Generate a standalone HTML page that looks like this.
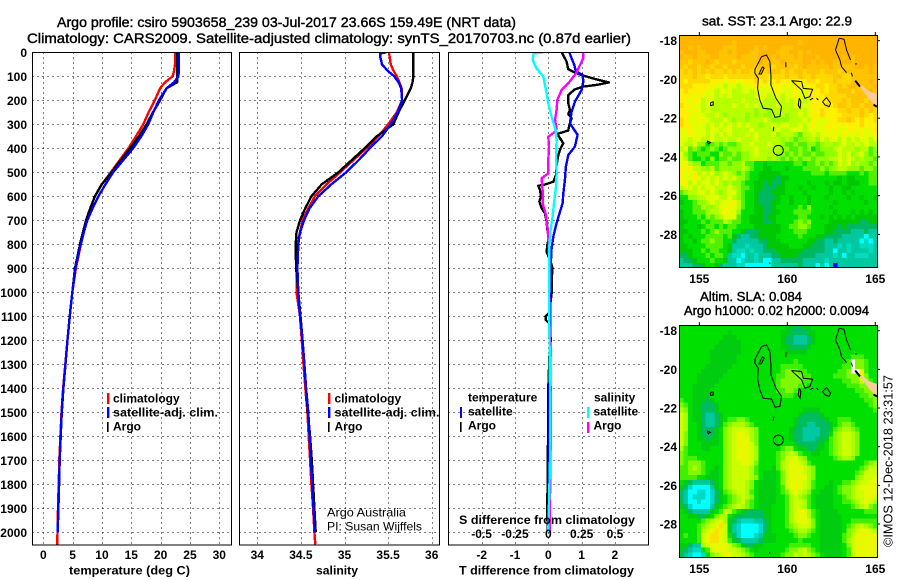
<!DOCTYPE html>
<html lang="en">
<head>
<meta charset="utf-8">
<title>Argo profile csiro 5903658_239</title>
<style>
html,body{margin:0;padding:0;background:#fff;}
svg{display:block;}
text{font-family:"Liberation Sans",sans-serif;fill:#000;}
.b{font-weight:bold;font-size:12px;}
.t{font-weight:normal;font-size:14px;stroke:#000;stroke-width:0.4px;}
.m{font-weight:normal;font-size:12.5px;stroke:#000;stroke-width:0.4px;}
.r{font-weight:normal;font-size:12px;}
</style>
</head>
<body>
<svg id="chart" width="900" height="580" viewBox="0 0 900 580" xmlns="http://www.w3.org/2000/svg">
<defs>
<clipPath id="clip-temp"><rect x="32" y="52" width="200" height="493"/></clipPath>
<clipPath id="clip-sal"><rect x="239" y="52" width="200.5" height="493"/></clipPath>
<clipPath id="clip-diff"><rect x="448" y="52" width="200.5" height="493"/></clipPath>
<clipPath id="clip-map1"><rect x="679" y="35" width="198" height="232"/></clipPath>
<clipPath id="clip-map2"><rect x="679" y="325.5" width="198" height="231.5"/></clipPath>
</defs>
<g id="layer-grid"></g>
<g id="layer-marks"></g>
<g id="layer-maps"></g>
<g id="layer-axes"></g>

<text class="t" x="57" y="27" textLength="459" lengthAdjust="spacingAndGlyphs">Argo profile: csiro 5903658_239 03-Jul-2017 23.66S 159.49E (NRT data)</text>
<text class="t" x="27" y="43" textLength="604" lengthAdjust="spacingAndGlyphs">Climatology: CARS2009. Satellite-adjusted climatology: synTS_20170703.nc (0.87d earlier)</text>

<text class="b" x="69" y="574.5" textLength="121" lengthAdjust="spacingAndGlyphs">temperature (deg C)</text>
<text class="b" x="316" y="574.5" textLength="42" lengthAdjust="spacingAndGlyphs">salinity</text>
<text class="b" x="459" y="574.5" textLength="175" lengthAdjust="spacingAndGlyphs">T difference from climatology</text>
<text class="b" x="459" y="524" textLength="176" lengthAdjust="spacingAndGlyphs">S difference from climatology</text>

<g>
<rect x="107" y="393" width="2.4" height="11" fill="#ff0000"/>
<rect x="107" y="407" width="2.4" height="11" fill="#0000ff"/>
<rect x="107" y="422" width="1.6" height="10" fill="#000"/>
<text class="b" x="113" y="402.5">climatology</text>
<text class="b" x="113" y="416.5" textLength="105" lengthAdjust="spacingAndGlyphs">satellite-adj. clim.</text>
<text class="b" x="113" y="430.5">Argo</text>
</g>
<g clip-path="url(#clip-sal)">
<rect x="328" y="393" width="2.4" height="11" fill="#ff0000"/>
<rect x="328" y="407" width="2.4" height="11" fill="#0000ff"/>
<rect x="328" y="422" width="1.6" height="10" fill="#000"/>
<text class="b" x="334.5" y="402.5">climatology</text>
<text class="b" x="334.5" y="416.5" textLength="105" lengthAdjust="spacingAndGlyphs">satellite-adj. clim.</text>
<text class="b" x="334.5" y="430.5">Argo</text>
</g>
<text class="r" x="327" y="516.5" textLength="79" lengthAdjust="spacingAndGlyphs">Argo Australia</text>
<text class="r" x="327" y="530.5" textLength="95" lengthAdjust="spacingAndGlyphs">PI: Susan Wijffels</text>

<g>
<text class="b" x="468" y="401.5">temperature</text>
<rect x="460" y="407" width="2" height="11" fill="#0000ff"/>
<text class="b" x="468" y="415.5">satellite</text>
<rect x="460" y="422" width="1.6" height="10" fill="#000"/>
<text class="b" x="468" y="429.5">Argo</text>
<text class="b" x="594" y="401.5">salinity</text>
<rect x="587" y="407" width="2.4" height="11" fill="#00ffff"/>
<text class="b" x="593.5" y="415.5">satellite</text>
<rect x="587" y="422" width="2.4" height="11" fill="#ff00ff"/>
<text class="b" x="593.5" y="429.5">Argo</text>
</g>

<text class="m" x="702" y="25.5" textLength="150" lengthAdjust="spacingAndGlyphs">sat. SST: 23.1 Argo: 22.9</text>
<text class="m" x="700" y="301" textLength="102" lengthAdjust="spacingAndGlyphs">Altim. SLA: 0.084</text>
<text class="m" x="684" y="315" textLength="185" lengthAdjust="spacingAndGlyphs">Argo h1000: 0.02 h2000: 0.0094</text>
<text class="r" transform="translate(892.5,547) rotate(-90)" textLength="172" lengthAdjust="spacingAndGlyphs" style="font-size:13px">©IMOS 12-Dec-2018 23:31:57</text>
</svg>

<script>
// ---------- profile data ----------
const profileDepths = [0,5,20,50,75,100,125,150,200,250,300,350,400,450,500,550,600,650,700,750,800,900,1000,1100,1200,1300,1400,1500,1600,1700,1800,1900,2000,2050];
const tempClim = [22.5,22.5,22.5,22.45,22.3,22.05,20.75,19.9,19.0,17.95,17.05,15.8,14.5,13.0,11.5,10.0,8.8,8.0,7.35,6.85,6.4,5.55,4.95,4.5,4.1,3.75,3.38,3.1,2.92,2.72,2.62,2.5,2.42,2.38];
const tempArgo = [22.85,22.85,22.85,22.85,22.85,22.85,22.8,21.0,19.9,18.7,17.6,16.3,14.8,13.2,11.65,9.95,8.8,8.0,7.3,6.75,6.25,5.4,4.95,4.5,4.12,3.78,3.42,3.16,2.97,2.8,2.69,2.57,2.45,null];
const tempSat = [23.08,23.08,23.08,23.08,23.08,23.05,22.3,21.0,19.7,18.75,17.9,16.7,15.3,13.6,11.9,10.6,9.4,8.4,7.5,6.9,6.4,5.45,4.95,4.52,4.12,3.78,3.41,3.13,2.96,2.79,2.68,2.56,2.45,null];
const salClim = [35.51,35.51,35.52,35.53,35.56,35.6,35.63,35.655,35.66,35.6,35.5,35.39,35.25,35.1,34.95,34.795,34.66,34.585,34.52,34.49,34.46,34.45,34.45,34.49,34.51,34.53,34.55,34.575,34.59,34.605,34.62,34.64,34.655,34.665];
const salArgo = [35.79,35.79,35.79,35.79,35.79,35.79,35.78,35.76,35.69,35.62,35.56,35.37,35.23,35.08,34.93,34.74,34.62,34.55,34.49,34.45,34.44,34.445,34.47,34.495,34.52,34.54,34.56,34.58,34.605,34.625,34.64,34.655,34.67,null];
const salSat = [35.48,35.41,35.41,35.43,35.49,35.57,35.62,35.65,35.66,35.61,35.53,35.43,35.29,35.16,35.02,34.85,34.7,34.6,34.535,34.49,34.47,34.46,34.47,34.49,34.52,34.54,34.56,34.585,34.6,34.615,34.63,34.645,34.66,null];

const dTArgoDepths = [0,18,39,71,88,99,113,126,136,143,154,178,213,240,257,275,303,326,340,358,379,400,428,469,511,539,553,556,574,601,622,650,671,706,747,775,803,831,865,900,949,1004,1085,1100,1115,1130,1200,1400,1500,1900,2000];
const dTArgo = [.40,.47,.55,.60,.85,1.10,1.45,1.82,1.45,1.05,.80,.60,.60,.65,.60,.70,.63,.60,.27,.35,.45,.37,.30,.25,.23,.15,-.15,-.30,-.25,-.22,-.27,-.20,-.10,-.05,-.02,.02,-.03,-.05,.05,.13,.10,.10,.03,-.08,-.08,.03,.05,0,0,-.03,-.02];
const dTSatDepths = [0,25,53,81,94,122,157,206,247,296,317,344,393,428,476,532,588,629,664,712,768,817,893,963,1032,1100,1200,1400,2000];
const dTSat = [.63,.70,.78,.83,1.03,1.05,1.00,.80,.70,.65,.75,.88,.80,.60,.53,.50,.45,.43,.35,.25,.15,.10,.07,.05,.05,.06,.07,.03,.01];
const dSArgoDepths = [0,25,53,88,129,157,199,240,282,317,331,352,393,449,504,525,574,629,678,726,768,851,1004,1500,2000];
const dSArgo = [.2625,.2625,.2375,.2075,.15,.10,.0675,.0625,.05,.0625,.05,0,.005,0,0,-.05,-.0425,-.0425,-.0175,-.0075,0,.005,.005,.02,.01];
const dSSatDepths = [0,5,32,67,101,157,213,268,324,365,435,504,560,629,685,740,810,921,1018,1500,1700,2000];
const dSSat = [-.0375,-.11,-.1175,-.0875,-.0375,-.0175,0,.025,.055,.0625,.0575,.0625,.0575,.0425,.0325,.0175,.0075,.0075,.005,.015,.0125,0];

// ---------- tick labels ----------
const depthTicks = [0,100,200,300,400,500,600,700,800,900,1000,1100,1200,1300,1400,1500,1600,1700,1800,1900,2000];
const tempTicks = [0,5,10,15,20,25,30];
const salTicks = [34,34.5,35,35.5,36];
const dTTicks = [-2,-1,0,1,2];
const dSTicks = [-0.5,-0.25,0,0.25,0.5];
const lonTicks = [155,160,165];
const latTicks = [-18,-20,-22,-24,-26,-28];

// ---------- satellite SST map, 0.25 degree cells, colour level per cell ----------
const sstRows = [
"eeeee eeeee eeeee eeeee eeeee eeeee eeeee eeeee eeeee",
"eeeee eeeee eedee eeeee eeeee eedee eeeee eeeee eeeee",
"eeded eeeee dddee eeded eeedd deeee eeeee eeeee eeeee",
"deeed deeed dedee eddee eeddd eeded eeeee eeeee eeeee",
"edded ddeed ddded dddee ededd dedee edeee eeded eeeee",
"ddcdd dedcd ddcdd ddded ddded dddee dedee ddeed eeeee",
"dcddc ddcdd cdddc ddcdd dcddd dcded dddde ddddd eeded",
"cdcdc dcdcc dcdcd dccdc dddcd cddcd ddcdd dcddd ddded",
"cccdc cbccc bcccc ccdcc bcccd ccdcc dcccc ddccd ddddd",
"cbccc ccbbb abbab bbcbc bbcbb bbbbc cbccc dcccd ddded",
"cccbb bbbaa 9aa9a abbba abbab abbab bccbc cdcde dddde",
"bcbbb baa9a aa99a a9aaa aabaa abaab bbcbc cdddc ddded",
"bbbab aaa9a 9a999 99aaa 9aa9a abaab bbbcc cccdd ddddd",
"bbabb 9aa99 9999a 999a9 99a9a 9aa9a bbbbc ccdcd ddcde",
"cbbaa 9a999 99a99 a9a99 99a99 9a9aa bbbcb cddcd dcddd",
"bbaba 9a999 99999 99899 89999 99a9a bbcbb bccdc cdcdc",
"bbbaa a99a9 89999 89898 89998 99a9a bbcbb bbccc cdcbc",
"cbaab aa999 a9899 8999a 98888 999a9 baaab bccdc bcbbc",
"cbbaa a9a9a 9a9a9 a9989 9a9aa 99a9a baabb babbb bcbbb",
"babaa a9aa9 aa999 9a999 99a99 aaa9a aaaba baabb ababb",
"aabaa a9a9a 9a999 a9a99 9a899 98799 a9aab aabaa abaab",
"aa9aa 99a99 a99a9 99a99 99989 87889 98a9a a9a9a 9aa9a",
"a99a8 86787 87789 9a999 a9987 78778 87899 89a99 a9a99",
"9a787 67876 78889 99a99 99988 77878 67888 9a999 89978",
"a8767 77668 77878 89a99 99887 87877 87788 8a9a8 9a878",
"a9766 76867 78778 89999 89878 78788 78889 9a9a9 89887",
"ab988 67778 87889 77665 66666 67767 78787 8a9a8 98878",
"bab99 88978 88889 87665 56665 66677 77878 89988 87887",
"baab9 a9a89 a9878 76655 55566 66666 77767 77766 67677",
"baaba 9a9a9 a9a88 76655 55455 66666 66666 65655 66677",
"ab9a9 aa9a9 89887 66554 54456 66665 66656 55655 56677",
"9aa9a 9aa99 9a987 76554 44556 66566 56665 66556 66666",
"7899a a9a98 9aa87 66544 45556 66656 66665 66565 66666",
"66889 9aaa9 9a987 66544 44566 56665 66656 66656 65665",
"56678 89a9a aab97 66544 45566 56665 66666 56666 66566",
"66677 9889a aba97 66554 45666 66768 66665 66666 66666",
"56677 7899a baa86 66554 45566 67777 66666 56665 65656",
"56667 68789 aaa76 65554 55666 66776 66565 65656 55555",
"55666 76777 98776 65554 45666 67878 66665 55555 54455",
"56665 67767 67766 66555 55566 77887 66655 54544 44444",
"55666 76787 77665 44455 55566 67776 66655 44443 33433",
"56566 67777 67543 34455 55666 66766 65544 44333 33133",
"56656 77877 66433 33344 55566 66665 54433 43333 31213",
"55666 67777 65333 23334 55555 66655 44433 32323 32223",
"55566 76776 65322 32334 44555 55544 44433 13323 33323",
"44566 67677 63221 33233 34455 55444 43333 23133 22233",
"34456 66766 53312 33231 13344 44433 33323 33333 33333",
"33344 56654 33322 11111 13333 33433 31313 03333 33333"
];

// ---------- altimetry SLA map ----------
const slaRows = [
"66666 66666 66666 66666 66665 54455 66666 66666 66666",
"66666 66666 65666 66666 66655 44445 56666 66666 66666",
"66666 66666 55566 66666 66654 43334 56666 66666 66666",
"66666 66665 55556 66666 66654 43334 56666 66666 66666",
"66666 66655 55556 66666 66655 44445 66666 66666 66666",
"66666 66555 55556 66666 66665 55556 66666 66666 66666",
"66666 66555 55566 66666 66666 66666 66666 66667 77666",
"66666 66555 55566 66666 66666 67666 66666 6667w 88766",
"66666 65555 55666 66666 66677 77766 66666 6677w 88766",
"66666 55555 56666 66666 66678 88776 66666 6778w wb766",
"66665 55555 66666 66666 66778 88877 66666 77788 8b866",
"66665 55556 66666 66666 66788 88877 66666 66778 8a876",
"66655 55566 66666 66666 66788 88776 66666 66677 78887",
"66655 55666 66666 66666 66778 87666 66666 66666 77888",
"66655 55666 66666 66666 66677 76666 66666 66666 67788",
"76655 54566 66666 66666 66666 66666 66666 66666 66778",
"87655 44456 66666 66666 66666 66666 66666 66666 66678",
"98655 44456 66666 66666 66666 66655 55666 66666 66667",
"a9655 43345 66666 66666 66666 66544 44566 66666 66666",
"a9655 43345 67788 76666 66666 65444 44456 67776 66666",
"a9665 43345 78999 87666 66666 65443 34445 67887 66666",
"a9665 44456 89aaa a9866 66666 54433 33445 78998 76666",
"a8665 44456 89abb a9866 66666 54433 33446 89aa9 86666",
"a8665 54556 89abb b9866 66666 54433 34457 89aa9 86666",
"a8666 55556 89abb ba866 66666 65444 44567 89aa9 86666",
"97666 55666 89abb ba966 66678 86554 45567 89aa9 86666",
"87666 66666 89abb ba966 66789 a9766 55667 89aa9 86666",
"87776 66666 89abb ba966 6678a ab986 66666 78998 66666",
"87888 76666 89aab ba866 6679a bba97 66666 66666 66789",
"77898 76656 89aaa a9766 6579a bbba9 86666 66666 678aa",
"77888 76556 89aaa a9765 5568a bbba9 86666 66666 78aaa",
"77776 65556 89aaa a9865 5568a bbbb9 86666 66666 89aab",
"65433 33456 89aaa 98655 5568a bbba9 76665 66778 9aabb",
"54211 11356 89aaa 98655 5567a bbba9 76655 67889 abbbb",
"43112 21245 789aa 97655 55678 aba98 66555 67889 aabbb",
"43122 21245 6789a 98655 55667 9a987 65555 66789 aabba",
"43112 11245 6789a 87655 55667 9aa97 65555 66778 9aba9",
"54211 11356 789a9 87655 56667 9aa97 65555 66667 89a87",
"65433 33567 a9765 44445 56667 9abb9 76555 56666 66777",
"66554 45689 96544 44445 56667 9abb9 76555 55666 66666",
"66666 789ab 95432 22334 56667 9abba 86555 55667 77777",
"66667 89abc a5321 11124 56667 89aaa 86555 55678 9a987",
"66667 9abcb a5321 11124 56666 78998 76555 55689 abba9",
"67667 abccb a6421 11235 55666 67887 66555 5578a bbbbb",
"66667 abccb a7543 33345 55666 66766 66555 5579a bbbbb",
"55433 9abbb ba875 44556 66666 77777 66555 5568a bbbbb",
"54322 67abb baa98 76566 66667 889a8 76555 5567a bbbbb",
"43211 2689a bbaa9 87666 66678 8a9a9 87655 5567a bbbbb"
];

// ---------- coastlines as [lon, lat] ----------
const coastLines = [
[[158.54,-18.82],[158.82,-18.74],[159.01,-19.08],[159.07,-19.77],[159.07,-20.28],[159.35,-20.97],[159.67,-21.40],[159.58,-21.92],[159.30,-21.95],[159.11,-21.54],[158.63,-21.49],[158.44,-21.06],[158.31,-20.46],[158.35,-19.94],[158.16,-19.68],[158.16,-19.48],[158.54,-18.82]],
[[158.59,-19.34],[158.68,-19.42],[158.52,-19.72],[158.39,-19.72],[158.59,-19.34]],
[[159.92,-19.11],[159.92,-19.37]],
[[160.24,-20.06],[160.81,-20.11],[160.91,-20.46],[161.44,-20.51],[161.28,-20.89],[161.0,-20.97],[160.81,-20.54],[160.43,-20.23],[160.24,-20.06]],
[[160.68,-20.97],[160.77,-21.15],[160.72,-21.49],[160.62,-21.32],[160.68,-20.97]],
[[161.28,-21.06],[161.47,-20.97]],
[[161.66,-20.97],[161.76,-21.06]],
[[162.0,-21.15],[162.23,-20.94],[162.46,-21.23],[162.38,-21.40],[162.14,-21.32],[162.0,-21.15]],
[[155.64,-21.2],[155.79,-21.15],[155.79,-21.32],[155.64,-21.35],[155.64,-21.2]],
[[155.45,-23.18],[155.64,-23.26],[155.51,-23.33],[155.45,-23.18]],
[[159.24,-22.44],[159.2,-22.66]],
[[158.98,-29.45],[159.03,-29.53]],
[[162.95,-17.87],[163.22,-17.93],[163.37,-18.48],[163.59,-18.99]],
[[162.95,-17.87],[162.74,-18.48],[162.99,-18.99],[163.08,-19.34],[163.37,-19.65]],
[[163.64,-19.65],[163.70,-19.85]],
[[163.85,-19.2],[163.95,-19.2]]
];
const caledoniaLand = [[163.94,-20.11],[164.31,-20.37],[164.69,-20.63],[165.09,-20.75],[165.09,-21.40],[164.69,-21.06],[164.13,-20.37]];
const caledoniaShoreNorth = [[163.86,-20.06],[164.13,-20.37]];
const caledoniaShoreSouth = [[164.9,-21.3],[165.09,-21.40]];
const profileLon = 159.49;
const profileLat = -23.66;

// ---------- axis functions ----------
const depthY = d => 52.3 + d * 0.24;
const tempX = t => 43.3 + t * 5.867;
const salX = s => 257.3 + (s - 34) * 87.2;
const dTX = t => 548.3 + t * 33.3;
const dSX = s => 548.3 + s * 133.3;
const lonX = l => 699.3 + (l - 155) * 17.6;
const lat1Y = l => 40.7 + (-18 - l) * 19.37;
const lat2Y = l => 330.7 + (-18 - l) * 19.33;

const NS = 'http://www.w3.org/2000/svg';
const gridLayer = document.getElementById('layer-grid');
const markLayer = document.getElementById('layer-marks');
const mapLayer = document.getElementById('layer-maps');
const axisLayer = document.getElementById('layer-axes');

function make(tag, attrs, parent) {
  const el = document.createElementNS(NS, tag);
  for (const k in attrs) el.setAttribute(k, attrs[k]);
  parent.appendChild(el);
  return el;
}

function label(str, x, y, anchor, parent) {
  const el = make('text', {x: x, y: y, 'text-anchor': anchor, class: 'b'}, parent);
  el.textContent = str;
  
  
  return el;
}

const panels = [
  {name: 'temperature', left: 32.3, right: 231.3, ticks: tempTicks, x: tempX},
  {name: 'salinity', left: 239.3, right: 439.3, ticks: salTicks, x: salX},
  {name: 'difference', left: 448.3, right: 648.3, ticks: dTTicks, x: dTX}
];
const panelTop = 52.3;
const panelBottom = 545;

panels.forEach(p => {
  p.ticks.forEach(t => {
    const gx = Math.round(p.x(t)) + 0.5;
    const v = make('line', {x1: gx, x2: gx, y1: panelTop, y2: panelBottom, stroke: '#000', 'stroke-width': 1, 'stroke-dasharray': '1 4', 'shape-rendering': 'crispEdges'}, gridLayer);
    
    
    label(String(t), p.x(t), 559, 'middle', axisLayer);
  });
  depthTicks.forEach(d => {
    if (d === 0) return;
    const gy = Math.round(depthY(d)) + 0.5;
    const h = make('line', {x1: p.left, x2: p.right, y1: gy, y2: gy, stroke: '#000', 'stroke-width': 1, 'stroke-dasharray': '1 4', 'shape-rendering': 'crispEdges'}, gridLayer);
    
    
  });
  const f = make('rect', {x: Math.round(p.left) + 0.5, y: 52.5, width: Math.round(p.right - p.left), height: 492.5, fill: 'none', stroke: '#000', 'stroke-width': 1, 'shape-rendering': 'crispEdges'}, axisLayer);
  
  
});

depthTicks.forEach(d => {
  label(String(d), 27, depthY(d) + 4.5, 'end', axisLayer);
});

dSTicks.forEach(s => {
  label(String(s), dSX(s), 538, 'middle', axisLayer);
});

function drawLine(depths, values, xFn, color, clip, name) {
  const pts = [];
  values.forEach((v, i) => {
    if (v !== null) pts.push(xFn(v).toFixed(1) + ',' + depthY(depths[i]).toFixed(1));
  });
  const el = make('polyline', {points: pts.join(' '), fill: 'none', stroke: color, 'stroke-width': 2.4, 'stroke-linejoin': 'round', 'shape-rendering': 'crispEdges', 'clip-path': 'url(#' + clip + ')'}, markLayer);
  
  
}

drawLine(profileDepths, tempClim, tempX, '#ff0000', 'clip-temp', 'temperature-climatology-line');
drawLine(profileDepths, tempArgo, tempX, '#000000', 'clip-temp', 'temperature-argo-line');
drawLine(profileDepths, tempSat, tempX, '#0000ff', 'clip-temp', 'temperature-satellite-line');
drawLine(profileDepths, salClim, salX, '#ff0000', 'clip-sal', 'salinity-climatology-line');
drawLine(profileDepths, salArgo, salX, '#000000', 'clip-sal', 'salinity-argo-line');
drawLine(profileDepths, salSat, salX, '#0000ff', 'clip-sal', 'salinity-satellite-line');
drawLine(dTArgoDepths, dTArgo, dTX, '#000000', 'clip-diff', 'temperature-difference-argo-line');
drawLine(dTSatDepths, dTSat, dTX, '#0000ff', 'clip-diff', 'temperature-difference-satellite-line');
drawLine(dSArgoDepths, dSArgo, dSX, '#ff00ff', 'clip-diff', 'salinity-difference-argo-line');
drawLine(dSSatDepths, dSSat, dSX, '#00ffff', 'clip-diff', 'salinity-difference-satellite-line');

// ---------- maps ----------
const sstColors = {
  '0': '#0000ff', '1': '#00ffff', '2': '#00dcc0', '3': '#00c8a0', '4': '#00b860',
  '5': '#00c800', '6': '#00e000', '7': '#50f000', '8': '#90ff00', '9': '#b8ff00',
  'a': '#e0ff00', 'b': '#fff000', 'c': '#ffd800', 'd': '#ffc400', 'e': '#ffb400', 'w': '#ffffff'
};
const slaColors = {
  '1': '#00ffff', '2': '#00d8c8', '3': '#00c8a0', '4': '#00bc60',
  '5': '#00cc10', '6': '#00e000', '7': '#40f000', '8': '#80f800', '9': '#a8ff00',
  'a': '#ccff00', 'b': '#e8f800', 'c': '#f8e400', 'w': '#ffffff'
};
const firstLon = 153.86;
const firstLat = -17.72;
const lonStep = 0.25;
const latStep = 0.25;

function drawMap(rows, colors, yFn, clip, frame, name) {
  const g = make('g', {'clip-path': 'url(#' + clip + ')', 'shape-rendering': 'crispEdges'}, mapLayer);
  
  
  rows.forEach((row, r) => {
    const cells = row.replace(/ /g, '');
    for (let c = 0; c < cells.length; c++) {
      const x0 = lonX(firstLon + c * lonStep);
      const y0 = yFn(firstLat - r * latStep);
      const cell = make('rect', {x: x0.toFixed(2), y: y0.toFixed(2), width: (lonStep * 17.6 + 0.4).toFixed(2), height: (latStep * 19.35 + 0.4).toFixed(2), fill: colors[cells[c]]}, g);
      
      
    }
  });
  const clipG = make('g', {'clip-path': 'url(#' + clip + ')'}, mapLayer);
  
  
  const toPts = arr => arr.map(p => lonX(p[0]).toFixed(1) + ',' + yFn(p[1]).toFixed(1)).join(' ');
  const land = make('polygon', {points: toPts(caledoniaLand), fill: '#ffcc99'}, clipG);
  
  
  const shoreNorth = make('polyline', {points: toPts(caledoniaShoreNorth), fill: 'none', stroke: '#000', 'stroke-width': 2}, clipG);
  
  
  const shoreSouth = make('polyline', {points: toPts(caledoniaShoreSouth), fill: 'none', stroke: '#000', 'stroke-width': 2}, clipG);
  
  
  coastLines.forEach(line => {
    const l = make('polyline', {points: toPts(line), fill: 'none', stroke: '#000', 'stroke-width': 1}, clipG);
    
    
  });
  const dot = make('circle', {cx: lonX(profileLon), cy: yFn(profileLat), r: 5, fill: 'none', stroke: '#000', 'stroke-width': 1}, mapLayer);
  
  

  const fr = make('rect', {x: frame.x + 0.5, y: frame.y + 0.5, width: frame.w, height: frame.h, fill: 'none', stroke: '#000', 'stroke-width': 1, 'shape-rendering': 'crispEdges'}, mapLayer);
  
  

  lonTicks.forEach(l => {
    const tx = lonX(l);
    const t = make('line', {x1: tx, x2: tx, y1: frame.y - 3, y2: frame.y, stroke: '#000', 'stroke-width': 1}, mapLayer);
    
    
    label(String(l), tx, frame.y + frame.h + 16, 'middle', axisLayer);
  });
  latTicks.forEach(l => {
    const ty = yFn(l);
    const t = make('line', {x1: frame.x + frame.w, x2: frame.x + frame.w + 3, y1: ty, y2: ty, stroke: '#000', 'stroke-width': 1}, mapLayer);
    
    
    label(String(l), 677, ty + 4.5, 'end', axisLayer);
  });
}

drawMap(sstRows, sstColors, lat1Y, 'clip-map1', {x: 679, y: 35, w: 198, h: 232}, 'sst-map');
drawMap(slaRows, slaColors, lat2Y, 'clip-map2', {x: 679, y: 325, w: 198, h: 232}, 'sla-map');
</script>
</body>
</html>
